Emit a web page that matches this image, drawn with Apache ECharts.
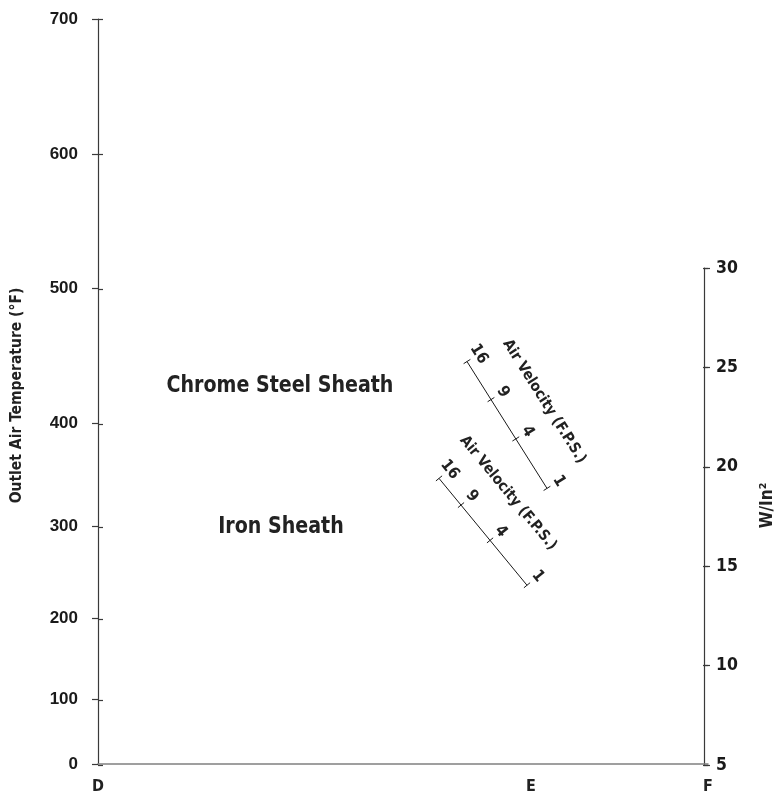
<!DOCTYPE html>
<html><head><meta charset="utf-8">
<script src="https://cdn.jsdelivr.net/npm/echarts@6/dist/echarts.min.js"></script>
<style>html,body{margin:0;padding:0;background:#fff}#c{width:784px;height:795px}</style>
</head><body><div id="c"></div>
<script>
// ---- data ----
const tempTicks = [0, 100, 200, 300, 400, 500, 600, 700];
const tempTickPos = [0, 65, 146, 238, 341, 476, 611, 746]; // nomograph scale position of each temperature tick
const tempScaleMax = 746;
const wattTicks = [5, 10, 15, 20, 25, 30];
const xLabels = ['D', 'E', 'F'];
const xLabelPos = [0, 433, 610];
const xScaleMax = 610;
const velocityLabels = ['16', '9', '4', '1'];
const upperVelocityFrac = [0, 0.30, 0.61, 1];
const lowerVelocityFrac = [0, 0.25, 0.58, 1];
const upperScaleEnds = [[369, 403], [449, 276]];
const lowerScaleEnds = [[341, 286], [429, 179]];
const velocityTitle = 'Air Velocity (F.P.S.)';
const sheathLabels = ['Chrome Steel Sheath', 'Iron Sheath'];

const FONT = '"Liberation Sans Narrow", "DejaVu Sans Condensed", "Roboto", sans-serif';
const FONT_W = '"Liberation Sans", "Arial", sans-serif';
const scales = [
  { ends: upperScaleEnds, frac: upperVelocityFrac, along: 0 },
  { ends: lowerScaleEnds, frac: lowerVelocityFrac, along: -14 }
];

const chart = echarts.init(document.getElementById('c'));
const axisColor = '#3a3a3a';
const tempLabelMap = {};
tempTickPos.forEach((p, i) => tempLabelMap[p] = String(tempTicks[i]));
const xLabelMap = {};
xLabelPos.forEach((p, i) => xLabelMap[p] = xLabels[i]);

const gridFull = { left: 98, right: 76, top: 19, bottom: 30 };
const gridRight = { left: 98, right: 76, top: 268, bottom: 30 };
const hiddenX = gi => ({ type: 'value', gridIndex: gi, min: 0, max: xScaleMax, show: false });

chart.setOption({
  animation: false,
  backgroundColor: '#fff',
  grid: [gridFull, gridRight, Object.assign({}, gridFull), Object.assign({}, gridRight)],
  xAxis: [
    { type: 'value', gridIndex: 0, min: 0, max: xScaleMax, position: 'bottom',
      splitLine: { show: false },
      axisLine: { show: true, onZero: false, lineStyle: { color: '#808080', width: 1.5 } },
      axisTick: { show: false },
      axisLabel: { customValues: xLabelPos, formatter: v => xLabelMap[v] ?? '',
        color: '#222', fontFamily: FONT, fontWeight: 'bold', fontSize: 16, margin: 15 } },
    hiddenX(1), hiddenX(2), hiddenX(3)
  ],
  yAxis: [
    { type: 'value', gridIndex: 0, min: 0, max: tempScaleMax, position: 'left',
      name: 'Outlet Air Temperature (°F)', nameLocation: 'middle', nameGap: 73,
      nameTextStyle: { color: '#222', fontFamily: FONT, fontWeight: 'bold', fontSize: 15.5, padding: [0, 8, 0, 0] },
      splitLine: { show: false },
      axisLine: { show: true, onZero: false, lineStyle: { color: axisColor, width: 1.2 } },
      axisTick: { show: true, customValues: tempTickPos, length: 6, lineStyle: { color: axisColor, width: 1.2 } },
      axisLabel: { customValues: tempTickPos, formatter: v => tempLabelMap[v] ?? '',
        color: '#1a1a1a', fontFamily: FONT_W, fontWeight: 'bold', fontSize: 17, margin: 20 } },
    { type: 'value', gridIndex: 1, min: 5, max: 30, interval: 5, position: 'right',
      name: 'W/In²', nameLocation: 'middle', nameGap: 55, nameRotate: 90,
      nameTextStyle: { color: '#222', fontFamily: FONT, fontWeight: 'bold', fontSize: 17, padding: [0, 0, 0, 22] },
      splitLine: { show: false },
      axisLine: { show: true, onZero: false, lineStyle: { color: axisColor, width: 1.2 } },
      axisTick: { show: true, length: 6, lineStyle: { color: axisColor, width: 1.2 } },
      axisLabel: { color: '#1a1a1a', fontFamily: FONT, fontWeight: 'bold', fontSize: 17.5, margin: 12 } },
    { type: 'value', gridIndex: 2, min: 0, max: tempScaleMax, position: 'left',
      splitLine: { show: false }, axisLine: { show: false, onZero: false },
      axisTick: { show: true, inside: true, customValues: tempTickPos, length: 5, lineStyle: { color: axisColor, width: 1.2 } },
      axisLabel: { show: false } },
    { type: 'value', gridIndex: 3, min: 5, max: 30, interval: 5, position: 'right',
      splitLine: { show: false }, axisLine: { show: false, onZero: false },
      axisTick: { show: true, inside: true, length: 5, lineStyle: { color: axisColor, width: 1.2 } },
      axisLabel: { show: false } }
  ],
  series: [{
    type: 'custom',
    coordinateSystem: 'cartesian2d',
    xAxisIndex: 0, yAxisIndex: 0,
    clip: false,
    data: scales.map(s => [s.ends[0][0], s.ends[0][1]]),
    encode: { x: 0, y: 1 },
    renderItem: function (params, api) {
      const s = scales[params.dataIndex];
      const p0 = api.coord(s.ends[0]);
      const p1 = api.coord(s.ends[1]);
      const dx = p1[0] - p0[0], dy = p1[1] - p0[1];
      const L = Math.hypot(dx, dy);
      const ux = dx / L, uy = dy / L;
      const nx = uy, ny = -ux;
      const rot = -Math.atan2(dy, dx);
      const children = [];
      children.push({ type: 'line', shape: { x1: p0[0], y1: p0[1], x2: p1[0], y2: p1[1] },
        style: { stroke: '#1a1a1a', lineWidth: 1 } });
      s.frac.forEach((f, i) => {
        const px = p0[0] + dx * f, py = p0[1] + dy * f;
        children.push({ type: 'line', shape: { x1: px - nx * 4, y1: py - ny * 4, x2: px + nx * 4, y2: py + ny * 4 },
          style: { stroke: '#1a1a1a', lineWidth: 1 } });
        children.push({ type: 'text', x: px + nx * 14, y: py + ny * 14, rotation: rot,
          style: { text: velocityLabels[i], fill: '#222', fontFamily: FONT, fontWeight: 'bold', fontSize: 16,
            align: 'center', verticalAlign: 'middle', textAlign: 'center', textVerticalAlign: 'middle' } });
      });
      const mx = (p0[0] + p1[0]) / 2, my = (p0[1] + p1[1]) / 2;
      children.push({ type: 'text', x: mx + nx * 44 + ux * s.along, y: my + ny * 44 + uy * s.along, rotation: rot,
        style: { text: velocityTitle, fill: '#222', fontFamily: FONT, fontWeight: 'bold', fontSize: 15,
          align: 'center', verticalAlign: 'middle', textAlign: 'center', textVerticalAlign: 'middle' } });
      return { type: 'group', children };
    }
  }],
  graphic: [
    { type: 'text', x: 280, y: 386, scaleX: 0.92, style: { text: sheathLabels[0], fill: '#222', fontFamily: FONT, fontWeight: 'bold', fontSize: 23, align: 'center', verticalAlign: 'middle' } },
    { type: 'text', x: 281, y: 527, scaleX: 0.92, style: { text: sheathLabels[1], fill: '#222', fontFamily: FONT, fontWeight: 'bold', fontSize: 23, align: 'center', verticalAlign: 'middle' } }
  ]
});
</script>
</body></html>
